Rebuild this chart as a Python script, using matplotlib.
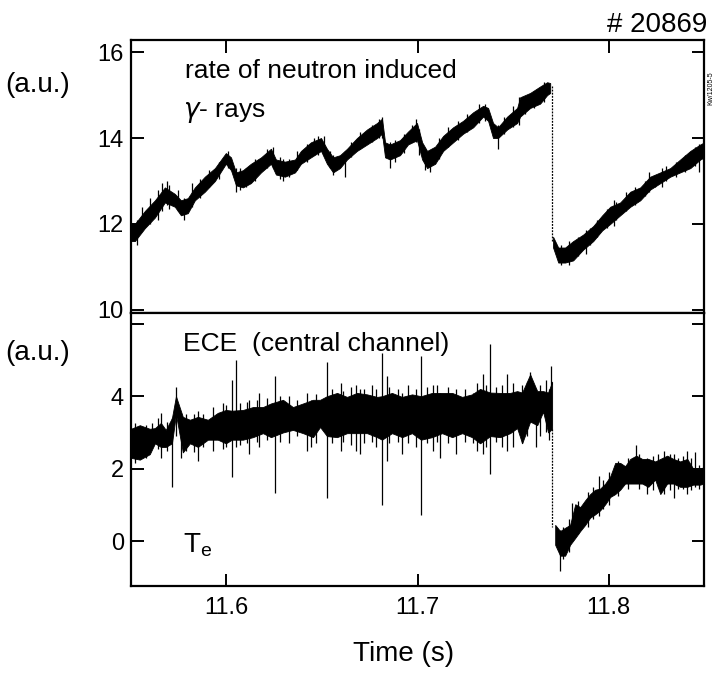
import numpy as np
import matplotlib
matplotlib.use("Agg")
import matplotlib.pyplot as plt

plt.rcParams['font.family'] = ['Liberation Sans', 'DejaVu Sans']

# --- gamma-ray rate (upper panel), band: time, lower edge, upper edge
gam_t = [11.5500, 11.5521, 11.5573, 11.5626, 11.5678, 11.5730, 11.5762, 11.5798, 11.5835,
         11.5887, 11.5940, 11.5997, 11.6024, 11.6050, 11.6086, 11.6128, 11.6181, 11.6233,
         11.6259, 11.6306, 11.6359, 11.6390, 11.6442, 11.6495, 11.6526, 11.6558, 11.6594,
         11.6631, 11.6683, 11.6736, 11.6788, 11.6814, 11.6830, 11.6856, 11.6908, 11.6950,
         11.6997, 11.7024, 11.7050, 11.7092, 11.7134, 11.7186, 11.7238, 11.7291, 11.7343,
         11.7369, 11.7395, 11.7421, 11.7469, 11.7521, 11.7537, 11.7589, 11.7641, 11.7678,
         11.7694,
         11.7709, 11.7736, 11.7772, 11.7814, 11.7866, 11.7919, 11.7966, 11.8008, 11.8060,
         11.8113, 11.8165, 11.8217, 11.8270, 11.8322, 11.8374, 11.8427, 11.8479, 11.8500]
gam_lo = [11.6, 11.6, 11.9, 12.15, 12.5, 12.4, 12.2, 12.25, 12.55,
          12.75, 13.0, 13.4, 13.25, 12.9, 12.85, 12.95, 13.2, 13.4,
          13.15, 13.1, 13.2, 13.4, 13.55, 13.7, 13.4, 13.2, 13.3,
          13.5, 13.7, 13.85, 14.0, 14.1, 13.55, 13.5, 13.6, 13.85,
          13.95, 13.5, 13.3, 13.4, 13.7, 13.9, 14.1, 14.25, 14.5,
          14.4, 14.0, 14.0, 14.2, 14.35, 14.5, 14.7, 14.8, 15.0,
          15.05,
          11.45, 11.1, 11.1, 11.15, 11.4, 11.6, 11.85, 12.0, 12.2,
          12.4, 12.55, 12.8, 12.95, 13.1, 13.2, 13.3, 13.5, 13.55]
gam_hi = [12.0, 12.0, 12.3, 12.55, 12.85, 12.7, 12.55, 12.6, 12.85,
          13.1, 13.3, 13.65, 13.55, 13.2, 13.25, 13.4, 13.55, 13.75,
          13.5, 13.45, 13.5, 13.7, 13.9, 14.0, 13.75, 13.55, 13.6,
          13.75, 14.0, 14.2, 14.35, 14.45, 13.9, 13.85, 13.95, 14.15,
          14.35, 13.9, 13.7, 13.8, 14.05, 14.25, 14.4, 14.6, 14.75,
          14.7, 14.35, 14.25, 14.5, 14.7, 14.95, 15.05, 15.2, 15.3,
          15.28,
          11.7, 11.45, 11.45, 11.6, 11.75, 11.95, 12.2, 12.4, 12.5,
          12.75, 12.85, 13.1, 13.2, 13.3, 13.5, 13.7, 13.85, 13.9]

# short excursions of the gamma trace: time, bottom, top
gam_spk_t = [11.5662, 11.5700, 11.5780, 11.6050, 11.6100, 11.6298, 11.6480, 11.6560, 11.6620,
             11.6814, 11.6856, 11.6990, 11.7040, 11.7065, 11.7421, 11.7530, 11.7880, 11.8030,
             11.8210, 11.8280, 11.8470,
             11.5530, 11.5560, 11.5600, 11.5640, 11.5690, 11.5745, 11.5820, 11.5860, 11.5910,
             11.5960, 11.6010, 11.6070, 11.6150, 11.6210, 11.6245, 11.6280, 11.6330, 11.6370,
             11.6420, 11.6460, 11.6510, 11.6540, 11.6650, 11.6700, 11.6760, 11.6800, 11.6880,
             11.6930, 11.6970, 11.7010, 11.7110, 11.7160, 11.7210, 11.7260, 11.7320, 11.7355,
             11.7450, 11.7500, 11.7560, 11.7610, 11.7660, 11.7750, 11.7790, 11.7840, 11.7900,
             11.7940, 11.7990, 11.8040, 11.8090, 11.8140, 11.8190, 11.8240, 11.8300, 11.8350,
             11.8400, 11.8450]
gam_spk_lo = [12.3, 12.35, 12.1, 12.75, 12.85, 13.0, 13.6, 13.15, 13.1,
              14.0, 13.3, 13.9, 13.25, 13.2, 13.75, 14.3, 11.3, 11.95,
              12.75, 12.85, 13.2,
              11.5, 11.85, 12.0, 12.1, 12.45, 12.3, 12.4, 12.6, 12.85,
              13.05, 13.3, 12.8, 13.0, 13.3, 13.3, 13.05, 13.1, 13.25,
              13.45, 13.6, 13.6, 13.3, 13.55, 13.75, 13.9, 14.0, 13.45,
              13.65, 13.9, 13.6, 13.5, 13.8, 13.95, 14.15, 14.35, 14.4,
              14.1, 14.25, 14.55, 14.7, 14.85, 11.05, 11.05, 11.25, 11.5,
              11.7, 11.9, 12.1, 12.3, 12.45, 12.65, 12.85, 13.0, 13.1,
              13.2, 13.35]
gam_spk_hi = [12.95, 12.9, 12.6, 13.3, 13.3, 13.5, 14.05, 13.6, 13.7,
              14.5, 13.9, 14.45, 13.75, 13.7, 14.3, 14.95, 11.85, 12.55,
              13.2, 13.3, 13.85,
              12.1, 12.4, 12.6, 12.8, 13.0, 12.8, 12.95, 13.05, 13.25,
              13.45, 13.7, 13.3, 13.5, 13.75, 13.8, 13.55, 13.5, 13.7,
              13.85, 14.0, 14.05, 13.7, 13.9, 14.15, 14.3, 14.45, 13.95,
              14.1, 14.3, 14.2, 14.0, 14.25, 14.4, 14.55, 14.8, 14.8,
              14.5, 14.75, 14.95, 15.1, 15.3, 11.5, 11.6, 11.7, 11.9,
              12.1, 12.35, 12.5, 12.75, 12.85, 13.0, 13.15, 13.35, 13.45,
              13.6, 13.8]

# --- ECE central channel (lower panel)
ece_t = [11.5500, 11.5547, 11.5599, 11.5626, 11.5657, 11.5683, 11.5715, 11.5736, 11.5772,
         11.5809, 11.5851, 11.5903, 11.5955, 11.5997, 11.6029, 11.6086, 11.6139, 11.6191,
         11.6233, 11.6296, 11.6348, 11.6401, 11.6453, 11.6490, 11.6526, 11.6579, 11.6631,
         11.6683, 11.6736, 11.6788, 11.6814, 11.6866, 11.6919, 11.6971, 11.7018, 11.7076,
         11.7128, 11.7181, 11.7233, 11.7285, 11.7327, 11.7380, 11.7432, 11.7484, 11.7521,
         11.7547, 11.7589, 11.7626, 11.7657, 11.7683, 11.7704,
         11.7720, 11.7746, 11.7772, 11.7798, 11.7825, 11.7851, 11.7877, 11.7903, 11.7929,
         11.7955, 11.7982, 11.8008, 11.8034, 11.8060, 11.8086, 11.8113, 11.8144, 11.8175,
         11.8207, 11.8243, 11.8270, 11.8306, 11.8338, 11.8374, 11.8411, 11.8442, 11.8479,
         11.8500]
ece_lo = [2.3, 2.25, 2.4, 2.7, 2.6, 2.6, 2.7, 3.5, 2.45,
          2.7, 2.6, 2.8, 2.8, 2.7, 2.8, 2.8, 2.87, 2.98,
          2.87, 3.0, 3.07, 2.98, 2.87, 3.15, 2.9, 2.87, 2.98,
          2.98, 2.98, 2.87, 2.8, 2.98, 2.87, 2.98, 2.8, 2.87,
          2.98, 2.87, 2.98, 2.87, 2.7, 2.9, 2.87, 2.98, 3.12,
          2.7, 3.3, 3.2, 3.57, 3.0, 3.1,
          -0.1, -0.4, -0.4, -0.1, 0.09, 0.28, 0.45, 0.65, 0.74,
          0.85, 1.02, 1.22, 1.3, 1.42, 1.59, 1.59, 1.59, 1.59,
          1.5, 1.7, 1.3, 1.59, 1.59, 1.5, 1.5, 1.56, 1.56,
          1.6]
ece_hi = [3.1, 3.2, 3.1, 3.12, 3.26, 3.07, 3.4, 4.0, 3.43,
          3.35, 3.43, 3.35, 3.54, 3.62, 3.6, 3.62, 3.7, 3.7,
          3.8, 3.9, 3.7, 3.8, 3.9, 3.9, 4.0, 4.09, 3.98,
          4.09, 4.05, 3.98, 4.0, 4.09, 3.98, 4.05, 4.0, 4.09,
          4.09, 4.09, 3.98, 4.05, 4.2, 4.1, 4.09, 4.09, 4.14,
          4.1, 4.6, 4.14, 4.14, 4.1, 4.4,
          0.45, 0.28, 0.37, 0.45, 1.02, 0.94, 1.13, 1.3, 1.42,
          1.45, 1.59, 1.79, 2.16, 2.16, 2.07, 2.27, 2.36, 2.27,
          2.27, 2.2, 2.27, 2.36, 2.27, 2.2, 2.27, 2.0, 2.0,
          2.05]

# sawtooth spikes and fine noise of the ECE trace: time, bottom, top
ece_spk_t = [11.5715, 11.5736, 11.6029, 11.6050, 11.6254, 11.6526, 11.6814, 11.7018, 11.7380,
             11.5660, 11.5850, 11.5930, 11.6120, 11.6170, 11.6330, 11.6420, 11.6440, 11.6600,
             11.6680, 11.6700, 11.6840, 11.6920, 11.7080, 11.7120, 11.7200, 11.7290, 11.7340,
             11.7440, 11.7470, 11.7547, 11.7589, 11.7620, 11.7700, 11.7746, 11.7950, 11.8144,
             11.8200, 11.8290, 11.8340, 11.8411, 11.8450,
             11.5520, 11.5580, 11.5610, 11.5640, 11.5690, 11.5760, 11.5790, 11.5830, 11.5880,
             11.5980, 11.6000, 11.6070, 11.6110, 11.6160, 11.6210, 11.6280, 11.6370, 11.6470,
             11.6550, 11.6610, 11.6650, 11.6720, 11.6760, 11.6780, 11.6850, 11.6900, 11.6950,
             11.6990, 11.7050, 11.7100, 11.7160, 11.7250, 11.7310, 11.7360, 11.7410, 11.7500,
             11.7570, 11.7640, 11.7670, 11.7690, 11.7760, 11.7790, 11.7810, 11.7840, 11.7890,
             11.7920, 11.7970, 11.8000, 11.8050, 11.8100, 11.8160, 11.8230, 11.8260, 11.8320,
             11.8360, 11.8390, 11.8430, 11.8470]
ece_spk_lo = [1.50, 2.9, 1.77, 2.6, 1.33, 1.19, 0.99, 0.72, 1.85,
              2.3, 2.2, 2.5, 2.4, 2.6, 2.7, 2.5, 2.6, 2.5,
              2.5, 2.4, 2.2, 2.4, 2.5, 2.3, 2.4, 2.7, 2.4,
              2.6, 2.5, 2.7, 3.3, 2.6, 3.2, -0.82, 0.7, 1.6,
              1.3, 1.3, 1.2, 1.3, 1.5,
              2.15, 2.3, 2.6, 2.55, 2.5, 2.3, 2.5, 2.45, 2.6,
              2.55, 2.6, 2.65, 2.7, 2.75, 2.8, 2.75, 2.9, 2.7,
              2.7, 2.75, 2.65, 2.7, 2.75, 2.6, 2.7, 2.75, 2.7,
              2.6, 2.7, 2.75, 2.7, 2.75, 2.5, 2.6, 2.75, 2.6,
              2.9, 2.9, 3.0, 2.8, -0.5, -0.3, 0.0, 0.2, 0.4,
              0.6, 0.9, 1.0, 1.25, 1.45, 1.45, 1.4, 1.5, 1.4,
              1.45, 1.45, 1.4, 1.45]
ece_spk_hi = [3.4, 4.25, 4.45, 5.0, 4.55, 4.95, 5.2, 5.1, 5.45,
              3.55, 3.6, 3.7, 3.9, 4.1, 4.0, 4.1, 3.9, 4.36,
              4.3, 4.2, 4.55, 4.1, 4.3, 4.1, 4.2, 4.1, 4.6,
              4.3, 4.6, 4.3, 4.68, 4.2, 4.82, 0.3, 1.8, 2.64,
              2.3, 2.5, 2.4, 2.5, 2.45,
              3.25, 3.2, 3.25, 3.4, 3.3, 3.55, 3.5, 3.5, 3.5,
              3.8, 3.75, 3.8, 3.85, 3.9, 3.95, 4.0, 3.9, 4.05,
              4.2, 4.15, 4.25, 4.2, 4.3, 4.2, 4.25, 4.2, 4.3,
              4.2, 4.25, 4.3, 4.25, 4.2, 4.35, 4.3, 4.25, 4.35,
              4.4, 4.3, 4.45, 4.2, 0.4, 0.6, 1.05, 1.1, 1.35,
              1.5, 1.7, 1.9, 2.2, 2.3, 2.4, 2.35, 2.4, 2.4,
              2.3, 2.35, 2.3, 2.1]

t_crash = 11.7705
gam_drop = [15.2, 11.6]
ece_drop = [3.1, 0.4]

x_ticks = [11.6, 11.7, 11.8]
gam_ticks = [10, 12, 14, 16]
ece_ticks = [0, 2, 4, 6]
ece_ticklabels = ['0', '2', '4', '']


def style_axis(ax):
    for s in ax.spines.values():
        s.set_linewidth(1.6)
    ax.tick_params(direction='in', length=9, width=1.4, labelsize=17,
                   top=True, right=True, pad=5)
    ax.set_xlim(11.55, 11.85)
    ax.set_xticks(x_ticks)


def draw_band(ax, t, lo, hi, spk_t, spk_lo, spk_hi, drop):
    t = np.asarray(t)
    lo = np.asarray(lo)
    hi = np.asarray(hi)
    for m in (t < t_crash, t > t_crash):
        ax.fill_between(t[m], lo[m], hi[m], color='k', lw=0.6, edgecolor='k')
    ax.vlines(spk_t, spk_lo, spk_hi, color='k', lw=0.9)
    ax.plot([t_crash, t_crash], drop, color='k', lw=0.9, ls=(0, (1.5, 1)))


fig = plt.figure(figsize=(7.15, 6.8), dpi=100)
ax1 = fig.add_axes([0.183, 0.540, 0.802, 0.401])
ax2 = fig.add_axes([0.183, 0.138, 0.802, 0.402])

draw_band(ax1, gam_t, gam_lo, gam_hi, gam_spk_t, gam_spk_lo, gam_spk_hi, gam_drop)
style_axis(ax1)
ax1.set_ylim(9.93, 16.28)
ax1.set_yticks(gam_ticks)
ax1.tick_params(labelbottom=False, bottom=False)
ax1.text(0.094, 0.885, 'rate of neutron induced', transform=ax1.transAxes,
         fontsize=19, va='center', ha='left')
ax1.text(0.091, 0.735, r'$\gamma$- rays', transform=ax1.transAxes,
         fontsize=19, va='center', ha='left')

draw_band(ax2, ece_t, ece_lo, ece_hi, ece_spk_t, ece_spk_lo, ece_spk_hi, ece_drop)
style_axis(ax2)
ax2.set_ylim(-1.24, 6.3)
ax2.set_yticks(ece_ticks, ece_ticklabels)
ax2.tick_params(top=False, pad=8, axis='x')
ax2.text(0.091, 0.885, 'ECE  (central channel)', transform=ax2.transAxes,
         fontsize=19, va='center', ha='left')
ax2.text(0.091, 0.15, r'$\mathregular{T_e}$', transform=ax2.transAxes,
         fontsize=20, va='center', ha='left')

fig.text(0.007, 0.875, '(a.u.)', fontsize=20, va='center', ha='left')
fig.text(0.007, 0.481, '(a.u.)', fontsize=20, va='center', ha='left')
fig.text(0.565, 0.038, 'Time (s)', fontsize=20, va='center', ha='center')
fig.text(0.989, 0.963, '# 20869', fontsize=20, va='center', ha='right')
fig.text(0.994, 0.87, 'Kw/1205-5', fontsize=5, rotation=90, va='center', ha='center')

fig.savefig('out.png', dpi=100)
